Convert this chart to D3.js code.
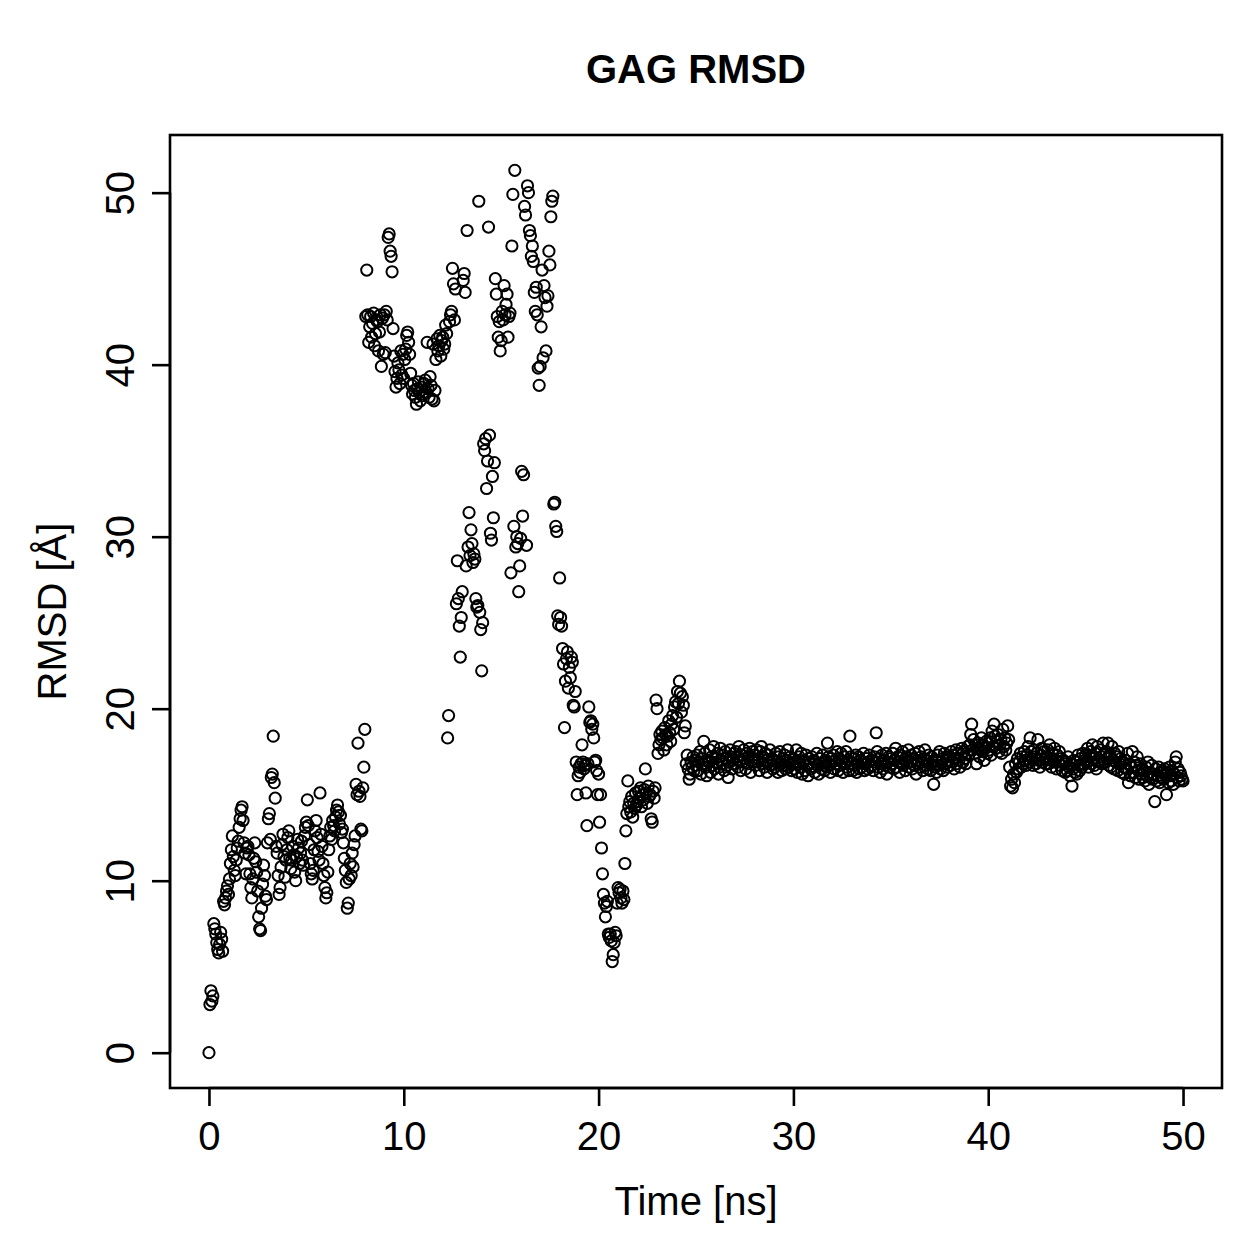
<!DOCTYPE html>
<html>
<head>
<meta charset="utf-8">
<script src="https://cdn.jsdelivr.net/npm/d3@7"></script>
<style>
  html, body { margin: 0; padding: 0; background: #fff; }
  svg text { font-family: "Liberation Sans", Arial, Helvetica, sans-serif; fill: #000; }
</style>
</head>
<body>
<div id="chart"></div>
<script>
// ---- Data (RMSD in Å, sampled every 0.05 ns) ----
const timeStep = 0.05;
const rmsd_00_05 = [
  0, 2.8, 3.6, 3.0, 3.3, 7.5, 7.2, 6.9, 6.4, 6.0, 5.8, 6.3, 7.0, 6.6, 5.9, 8.8, 8.6, 9.0, 9.4, 9.7,
  9.2, 10.1, 11.0, 11.8, 12.6, 11.4, 10.6, 10.3, 11.2, 11.9, 12.3, 13.1, 13.6, 14.1, 14.3, 13.5, 12.2, 11.6, 10.4, 11.9,
  12.0, 11.5, 10.4, 9.6, 9.0, 10.1, 11.3, 12.2, 11.1, 10.5, 9.4, 7.9, 7.2, 7.1, 8.4, 9.8, 10.9, 10.3, 9.1, 8.9,
  12.2, 13.6, 13.9, 12.4, 16.0, 16.2, 18.4, 15.7, 14.8, 12.0, 11.6, 10.3, 9.2, 9.6, 10.8, 12.1, 12.7, 11.4, 10.2, 11.2,
  11.8, 12.5, 12.9, 11.3, 10.7, 11.2, 12.0, 11.5, 10.5, 10.0, 11.4, 12.4, 11.9, 11.0, 11.6, 12.3, 11.2, 10.9, 12.6, 13.1
];
const rmsd_05_10 = [
  13.4, 14.7, 13.2, 12.1, 11.0, 10.4, 10.1, 10.6, 11.8, 12.9, 13.5, 12.5, 11.7, 11.2, 15.1, 12.7, 12.0, 11.0, 10.3, 9.6,
  9.0, 9.3, 10.5, 11.8, 12.6, 13.1, 12.4, 13.5, 13.2, 12.9, 13.7, 14.1, 14.4, 14.0, 13.3, 13.8, 12.8, 13.0, 12.2, 11.3,
  10.6, 9.9, 8.4, 8.7, 10.1, 11.0, 10.3, 11.6, 10.8, 12.1, 12.6, 15.6, 15.0, 18.0, 15.2, 14.9, 13.0, 12.9, 15.4, 16.6,
  18.8, 42.8, 45.5, 42.9, 41.3, 42.2, 42.8, 41.6, 42.4, 43.0, 41.1, 41.8, 42.6, 42.5, 40.8, 41.9, 42.9, 39.9, 42.7, 40.6,
  42.9, 40.7, 43.1, 42.6, 47.4, 47.6, 46.6, 46.3, 45.4, 42.1, 40.5, 39.6, 38.7, 39.2, 40.1, 39.7, 38.9, 40.8, 39.4, 40.6
];
const rmsd_10_15 = [
  39.2, 40.3, 40.9, 41.7, 41.9, 41.3, 40.6, 39.5, 38.8, 38.3, 38.9, 38.5, 38.1, 37.7, 38.6, 39.0, 38.4, 37.9, 38.7, 38.2,
  38.3, 38.9, 39.1, 38.4, 41.3, 38.6, 38.1, 39.3, 38.8, 38.0, 41.2, 37.9, 38.5, 40.3, 41.5, 40.8, 41.1, 41.7, 40.5, 41.4,
  41.6, 40.9, 41.2, 42.3, 41.8, 18.3, 19.6, 42.5, 42.9, 43.1, 45.6, 44.7, 42.6, 44.4, 26.1, 28.6, 26.4, 24.8, 23.0, 25.3,
  26.8, 44.9, 45.3, 44.2, 28.3, 47.8, 29.4, 31.4, 28.9, 30.4, 29.6, 28.5, 29.0, 28.7, 26.4, 25.9, 26.0, 49.5, 25.6, 24.6,
  22.2, 25.0, 35.4, 35.0, 35.7, 32.8, 34.4, 48.0, 35.9, 30.2, 29.8, 33.5, 31.1, 34.3, 45.0, 44.1, 42.8, 41.6, 42.5, 40.8
];
const rmsd_15_20 = [
  41.4, 43.1, 42.6, 44.6, 42.9, 43.5, 44.1, 41.6, 42.8, 43.0, 27.9, 46.9, 49.9, 30.6, 51.3, 29.4, 30.0, 29.6, 26.8, 28.3,
  29.9, 33.8, 31.2, 33.6, 49.2, 48.7, 29.5, 50.4, 50.0, 47.8, 47.5, 46.3, 46.9, 46.0, 44.2, 43.1, 44.5, 42.9, 39.8, 38.8,
  39.9, 42.2, 45.5, 40.4, 44.6, 43.9, 40.8, 43.4, 44.0, 46.6, 45.8, 48.6, 49.5, 49.8, 31.9, 32.0, 30.6, 30.3, 25.4, 24.9,
  27.6, 25.3, 24.8, 23.5, 22.6, 18.9, 21.6, 22.9, 23.3, 21.2, 22.4, 21.8, 23.0, 22.7, 20.2, 20.1, 21.0, 16.9, 15.0, 16.1,
  16.6, 16.3, 16.8, 17.9, 16.9, 16.5, 16.7, 15.1, 13.2, 16.8, 20.1, 19.2, 19.3, 18.8, 19.1, 18.3, 16.9, 17.0, 16.4, 15.0
];
const rmsd_20_25 = [
  16.2, 13.4, 15.0, 11.9, 10.4, 9.2, 8.7, 7.9, 8.5, 8.8, 6.9, 6.7, 6.9, 6.5, 5.3, 5.7, 6.4, 7.0, 6.8, 8.7,
  9.6, 9.3, 9.5, 9.0, 8.7, 9.4, 8.9, 11.0, 12.9, 13.9, 15.8, 14.3, 14.6, 14.0, 14.9, 13.7, 14.5, 14.2, 15.1, 14.4,
  14.6, 15.2, 14.8, 15.4, 14.3, 15.0, 14.7, 15.3, 16.5, 15.1, 14.5, 15.5, 14.9, 15.0, 13.6, 13.4, 15.2, 14.8, 15.4, 20.5,
  20.0, 17.4, 17.9, 18.5, 18.2, 18.7, 18.3, 17.6, 18.9, 18.5, 17.9, 18.4, 19.3, 18.6, 18.1, 19.1, 19.6, 18.8, 20.1, 20.4,
  19.5, 21.0, 20.3, 21.6, 20.9, 19.8, 20.7, 20.2, 18.6, 19.0, 16.8, 17.3, 16.5, 15.9, 16.2, 16.9, 16.6, 17.2, 16.4, 17.0
];
const rmsd_25_30 = [
  16.7, 17.3, 16.4, 16.9, 17.5, 16.2, 17.1, 16.8, 18.1, 17.4, 16.6, 16.1, 17.0, 16.9, 17.6, 16.3, 17.2, 16.7, 17.8, 16.5,
  17.1, 16.9, 17.4, 16.2, 16.6, 17.7, 17.0, 16.8, 17.3, 16.4, 17.5, 17.1, 16.7, 16.0, 16.9, 17.6, 17.2, 16.5, 17.0, 17.4,
  16.8, 17.5, 17.2, 16.6, 17.8, 17.0, 16.4, 17.3, 16.9, 17.6, 17.1, 16.5, 17.4, 16.8, 17.2, 17.7, 16.3, 17.0, 17.5, 16.9,
  17.3, 16.7, 17.6, 16.9, 17.1, 16.4, 17.5, 17.8, 16.8, 17.2, 16.6, 17.4, 17.0, 16.3, 17.3, 16.9, 17.6, 16.7, 17.1, 16.5,
  17.0, 16.6, 17.4, 16.9, 16.3, 17.2, 17.5, 16.8, 16.4, 17.1, 16.7, 17.3, 16.5, 17.0, 17.6, 16.6, 16.9, 17.2, 16.4, 16.8
];
const rmsd_30_35 = [
  17.1, 16.5, 16.9, 17.6, 16.3, 16.8, 17.2, 16.6, 17.4, 16.2, 16.9, 17.0, 16.4, 17.3, 16.7, 16.1, 17.1, 16.8, 16.5, 17.2,
  16.6, 17.0, 16.3, 16.9, 17.4, 16.7, 16.2, 17.1, 16.8, 16.5, 17.3, 16.9, 16.4, 17.0, 16.6, 18.0, 17.2, 16.7, 16.3, 17.1,
  16.9, 17.3, 16.5, 17.0, 16.8, 17.5, 16.4, 17.1, 16.7, 17.4, 16.9, 16.3, 17.2, 16.8, 17.5, 16.6, 17.0, 16.4, 18.4, 17.2,
  16.8, 16.4, 17.1, 16.7, 17.3, 16.3, 16.9, 17.2, 16.5, 17.0, 16.6, 16.9, 17.4, 16.4, 16.8, 17.1, 16.5, 16.9, 17.3, 16.6,
  17.0, 16.7, 16.4, 17.2, 16.9, 18.6, 17.5, 16.6, 17.1, 16.3, 16.8, 17.3, 16.5, 17.0, 16.7, 17.4, 16.2, 16.9, 17.2, 16.6
];
const rmsd_35_40 = [
  17.1, 16.8, 17.4, 16.5, 17.0, 17.7, 16.6, 17.2, 16.9, 16.3, 17.3, 16.8, 17.5, 16.7, 17.0, 16.4, 17.2, 16.9, 17.6, 16.6,
  16.9, 17.3, 16.5, 17.1, 16.7, 17.4, 16.2, 17.0, 16.8, 17.5, 16.6, 17.2, 16.9, 16.4, 17.1, 17.6, 16.7, 17.0, 16.5, 17.3,
  16.8, 16.4, 17.2, 16.9, 15.6, 16.6, 17.0, 16.3, 17.3, 16.7, 17.5, 16.5, 16.9, 17.1, 16.4, 17.4, 16.8, 17.2, 16.6, 17.0,
  17.2, 16.7, 17.5, 16.9, 17.3, 16.5, 17.1, 17.6, 16.8, 17.4, 17.0, 16.6, 17.3, 17.7, 16.9, 17.5, 17.1, 16.8, 17.4, 17.8,
  17.3, 17.9, 18.5, 19.1, 17.6, 18.2, 17.4, 17.9, 16.8, 17.7, 18.0, 17.2, 17.6, 18.3, 17.5, 17.9, 17.0, 17.7, 18.1, 17.4
];
const rmsd_40_45 = [
  18.0, 17.6, 18.3, 17.3, 18.7, 17.8, 19.1, 18.4, 17.7, 18.1, 18.5, 17.5, 17.9, 18.2, 17.4, 18.8, 17.8, 18.3, 17.6, 18.0,
  19.0, 18.2, 16.6, 15.5, 15.9, 15.4, 16.2, 15.7, 16.8, 16.3, 17.1, 16.5, 16.9, 17.4, 16.6, 17.2, 16.8, 17.5, 17.0, 16.7,
  17.3, 17.8, 16.9, 18.3, 17.5, 17.1, 16.7, 17.6, 17.2, 16.8, 17.4, 18.2, 17.0, 16.6, 17.3, 17.7, 16.9, 17.5, 17.1, 16.8,
  17.2, 17.6, 16.8, 17.9, 17.1, 16.6, 17.4, 16.9, 17.7, 17.0, 16.5, 17.3, 16.9, 17.5, 16.7, 17.1, 16.4, 17.0, 16.8, 16.3,
  16.9, 16.4, 17.2, 16.6, 16.1, 16.8, 15.5, 16.5, 17.0, 16.3, 16.9, 16.2, 17.3, 16.7, 16.4, 17.1, 16.6, 17.4, 16.8, 17.0
];
const rmsd_45_50 = [
  17.3, 16.9, 17.7, 16.6, 17.2, 17.5, 16.8, 17.9, 17.1, 16.7, 17.4, 16.5, 17.8, 17.0, 16.9, 17.6, 17.2, 16.8, 18.0, 17.3,
  16.9, 17.5, 17.1, 18.0, 16.7, 17.3, 16.6, 17.8, 17.0, 16.5, 17.4, 16.9, 17.2, 16.4, 17.5, 16.8, 17.1, 16.3, 16.9, 16.6,
  16.2, 17.0, 16.5, 17.4, 15.7, 16.8, 16.1, 16.6, 17.5, 16.3, 16.9, 16.0, 16.7, 17.2, 16.4, 15.9, 16.8, 16.2, 16.5, 16.0,
  16.4, 15.8, 16.6, 16.1, 16.9, 15.6, 16.3, 16.0, 16.7, 15.9, 16.2, 14.6, 16.5, 15.8, 16.1, 16.6, 15.7, 16.3, 16.0, 16.4,
  15.9, 16.5, 16.2, 15.0, 16.3, 15.7, 16.6, 16.1, 15.8, 16.4, 15.6, 16.2, 16.9, 17.2, 16.0, 16.5, 15.8, 16.3, 16.1, 15.9,
  15.8
];

const xTicks = [0, 10, 20, 30, 40, 50];
const yTicks = [0, 10, 20, 30, 40, 50];
const titleText = "GAG RMSD";
const xLabel = "Time [ns]";
const yLabel = "RMSD [Å]";

// ---- Build points ----
const rmsdAll = [].concat(rmsd_00_05, rmsd_05_10, rmsd_10_15, rmsd_15_20, rmsd_20_25,
                         rmsd_25_30, rmsd_30_35, rmsd_35_40, rmsd_40_45, rmsd_45_50);
const points = rmsdAll.map((v, i) => ({ t: +(i * timeStep).toFixed(2), v }));

// ---- Layout ----
const W = 1259, H = 1259;
const plot = { left: 170, right: 1222, top: 135, bottom: 1088 };

const svg = d3.select("#chart").append("svg")
  .attr("width", W).attr("height", H)
  .attr("viewBox", `0 0 ${W} ${H}`);

// R-style 4% axis padding
function padded(ext) {
  const d = (ext[1] - ext[0]) * 0.04;
  return [ext[0] - d, ext[1] + d];
}
const x = d3.scaleLinear().domain(padded(d3.extent(points, d => d.t))).range([plot.left, plot.right]);
const y = d3.scaleLinear().domain(padded(d3.extent(points, d => d.v))).range([plot.bottom, plot.top]);

// Points
svg.append("g")
  .selectAll("circle")
  .data(points)
  .join("circle")
  .attr("cx", d => x(d.t))
  .attr("cy", d => y(d.v))
  .attr("r", 5.6)
  .attr("fill", "none")
  .attr("stroke", "#000")
  .attr("stroke-width", 2);

// Box
svg.append("rect")
  .attr("x", plot.left).attr("y", plot.top)
  .attr("width", plot.right - plot.left).attr("height", plot.bottom - plot.top)
  .attr("fill", "none").attr("stroke", "#000").attr("stroke-width", 2.6);

// X axis
const xAxis = d3.axisBottom(x).tickValues(xTicks).tickSize(18).tickPadding(14).tickFormat(d3.format("d"));
const gx = svg.append("g").attr("transform", `translate(0,${plot.bottom})`).call(xAxis);
gx.select(".domain").attr("d", `M${x(xTicks[0])},0H${x(xTicks[xTicks.length - 1])}`)
  .attr("stroke", "#000").attr("stroke-width", 2.6);
gx.selectAll(".tick line").attr("stroke", "#000").attr("stroke-width", 2.6);
gx.selectAll(".tick text")
  .attr("font-size", 40).attr("font-family", "Liberation Sans, Arial, sans-serif")
  .attr("dy", null).attr("y", 62).attr("fill", "#000");

// Y axis
const yAxis = d3.axisLeft(y).tickValues(yTicks).tickSize(18).tickFormat(d3.format("d"));
const gy = svg.append("g").attr("transform", `translate(${plot.left},0)`).call(yAxis);
gy.select(".domain").attr("d", `M0,${y(yTicks[0])}V${y(yTicks[yTicks.length - 1])}`)
  .attr("stroke", "#000").attr("stroke-width", 2.6);
gy.selectAll(".tick line").attr("stroke", "#000").attr("stroke-width", 2.6);
gy.selectAll(".tick text")
  .attr("font-size", 40).attr("font-family", "Liberation Sans, Arial, sans-serif")
  .attr("x", null).attr("dy", null).attr("y", null)
  .attr("text-anchor", "middle")
  .attr("fill", "#000")
  .attr("transform", "translate(-36,0) rotate(-90)");

// Title
svg.append("text")
  .attr("x", (plot.left + plot.right) / 2).attr("y", 83)
  .attr("text-anchor", "middle").attr("font-size", 40).attr("font-weight", "bold")
  .text(titleText);

// X label
svg.append("text")
  .attr("x", (plot.left + plot.right) / 2).attr("y", 1215)
  .attr("text-anchor", "middle").attr("font-size", 40)
  .text(xLabel);

// Y label
svg.append("text")
  .attr("transform", `translate(66,${(plot.top + plot.bottom) / 2}) rotate(-90)`)
  .attr("text-anchor", "middle").attr("font-size", 40)
  .text(yLabel);
</script>
</body>
</html>
